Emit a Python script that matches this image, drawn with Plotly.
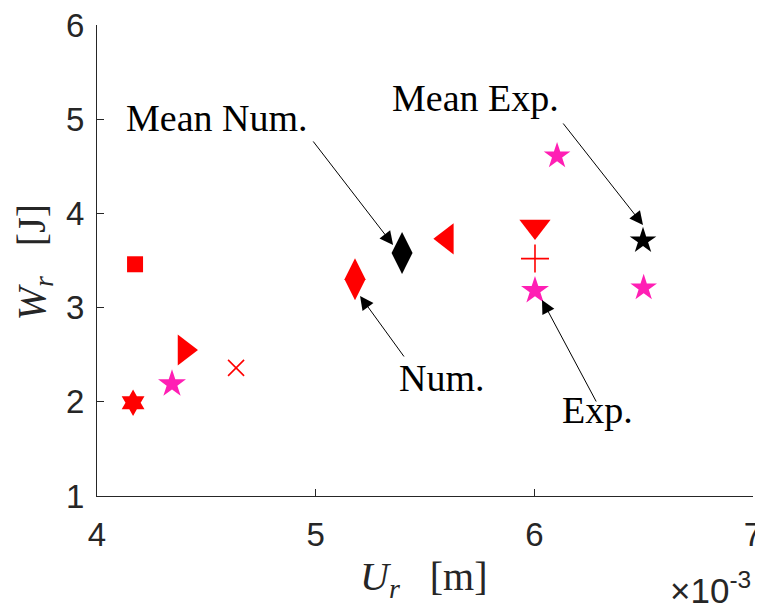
import plotly.graph_objects as go

# ---- data (U_r in metres, W_r in joules) ----
names   = ["Num. 1", "Num. 2", "Num. 3", "Exp. 1", "Num. 4", "Num. 5", "Mean Num.",
           "Num. 6", "Num. 7", "Num. 8", "Exp. 2", "Exp. 3", "Exp. 4", "Mean Exp."]
u_r     = [4.174e-3, 4.165e-3, 4.400e-3, 4.343e-3, 4.636e-3, 5.180e-3, 5.395e-3,
           5.600e-3, 6.003e-3, 6.003e-3, 6.003e-3, 6.104e-3, 6.500e-3, 6.497e-3]
w_r     = [3.46, 1.99, 2.55, 2.19, 2.36, 3.30, 3.58,
           3.73, 3.86, 3.52, 3.18, 4.61, 3.21, 3.71]
symbols = ["square", "hexagram", "triangle-right", "star", "x-thin-open", "diamond-tall", "diamond-tall",
           "triangle-left", "triangle-down", "cross-thin-open", "star", "star", "star", "star"]
colors  = ["#ff0000", "#ff0000", "#ff0000", "#ff1fb4", "#ff0000", "#ff0000", "#000000",
           "#ff0000", "#ff0000", "#ff0000", "#ff1fb4", "#ff1fb4", "#ff1fb4", "#000000"]
sizes   = [16, 20, 27, 21, 16, 30, 30, 27, 27, 20, 21, 20, 20, 20]

x_ticks = [4e-3, 5e-3, 6e-3, 7e-3]
x_tick_text = ["4", "5", "6", "7"]
y_ticks = [1, 2, 3, 4, 5, 6]

fig = go.Figure()
for n, xv, yv, s, c, sz in zip(names, u_r, w_r, symbols, colors, sizes):
    thin = s.endswith("-open")
    fig.add_trace(go.Scatter(
        x=[xv], y=[yv], mode="markers", name=n, showlegend=False,
        marker=dict(symbol=s, color=c, size=sz,
                    line=dict(color=c, width=1.6 if thin else 0)),
    ))

serif = "Liberation Serif, DejaVu Serif, serif"
sans = "Liberation Sans, Arial, sans-serif"

# text labels
labels = [("Mean Num.", 4.549e-3, 5.013), ("Mean Exp.", 5.733e-3, 5.225),
          ("Num.", 5.578e-3, 2.253), ("Exp.", 6.291e-3, 1.913)]
for t, xv, yv in labels:
    fig.add_annotation(x=xv, y=yv, text=t, showarrow=False,
                       font=dict(family=serif, size=38, color="black"))

# arrows (tip in data coords, tail as pixel offset)
arrows = [(5.354e-3, 3.665, -81, -105), (6.497e-3, 3.877, -81, -103),
          (5.203e-3, 3.123, 45, 62), (6.035e-3, 3.081, 55, 103)]
for xv, yv, ax, ay in arrows:
    fig.add_annotation(x=xv, y=yv, ax=ax, ay=ay, text="", showarrow=True,
                       arrowhead=2, arrowsize=2.7, arrowwidth=1, arrowcolor="black")

# axis titles
fig.add_annotation(xref="paper", yref="paper", x=0.498, y=-0.233,
                   text="<i>U</i><sub><i>r</i></sub>&nbsp;&nbsp;&nbsp;[m]", showarrow=False,
                   font=dict(family=serif, size=40, color="#262626"))
fig.add_annotation(xref="paper", yref="paper", x=-0.138, y=0.497, textangle=-90,
                   text="<i>W</i><sub><i>r</i></sub>&nbsp;&nbsp;&nbsp;[J]", showarrow=False,
                   font=dict(family=serif, size=40, color="#262626"))
fig.add_annotation(xref="paper", yref="paper", x=1.0, y=-0.247, xanchor="right",
                   text="×10<sup>-3</sup>", showarrow=False,
                   font=dict(family=sans, size=35, color="#262626"))

axis_common = dict(showline=True, linecolor="#262626", linewidth=1, mirror=False,
                   ticks="inside", ticklen=7, tickcolor="#262626", showgrid=False,
                   zeroline=False, automargin=False, ticklabeloverflow="allow",
                   tickfont=dict(family=sans, size=33, color="#262626"))

# page body has an 8px margin, so the figure is sized to fit the 763x608 window
fig.update_layout(
    width=755, height=600,
    margin=dict(l=89, r=10, t=17, b=112),
    plot_bgcolor="white", paper_bgcolor="white",
    xaxis=dict(range=[4e-3, 7e-3], tickvals=x_ticks, ticktext=x_tick_text,
               ticklabelstandoff=9, **axis_common),
    yaxis=dict(range=[1, 6], tickvals=y_ticks, ticklabelstandoff=5, **axis_common),
)

fig.write_html("out.html")
